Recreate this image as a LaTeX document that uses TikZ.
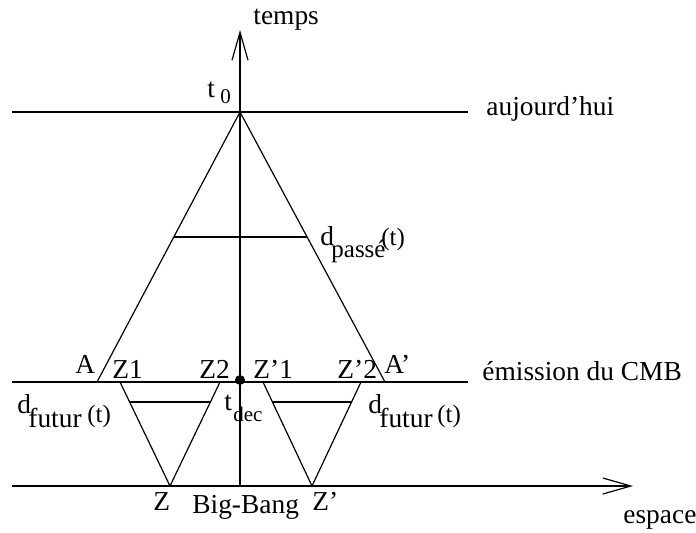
\documentclass[tikz,border=0pt]{standalone}
\usepackage{fontspec}
\setmainfont{Liberation Serif}
\usetikzlibrary{arrows.meta,calc}
\begin{document}
\begin{tikzpicture}[x=0.5pt,y=-0.5pt,
  ln/.style={line width=0.6pt},
  axarrow/.style={ln,-{Straight Barb[length=14pt,width=8pt,line width=0.6pt]}},
  lbl/.style={inner sep=0pt,anchor=base west,font=\fontsize{13.7}{16}\selectfont},
  sublbl/.style={inner sep=0pt,anchor=base west,font=\fontsize{10.5}{12}\selectfont},
  midlbl/.style={inner sep=0pt,anchor=base west,font=\fontsize{12.5}{14}\selectfont}]
\useasboundingbox (0,0) rectangle (696,532);
% key points
\coordinate (O) at (240,486);
\coordinate (Top) at (240,30);
\coordinate (Xl) at (12,486);
\coordinate (Xr) at (633,486);
\coordinate (T0) at (240,112);
\coordinate (Tl) at (12,112);
\coordinate (Tr) at (468,112);
\coordinate (Cl) at (12,382);
\coordinate (Cr) at (468,382);
\coordinate (A) at (97,382);
\coordinate (Ap) at (385,382);
\coordinate (Z1) at (120,382);
\coordinate (Z2) at (220,382);
\coordinate (Z) at (170,486);
\coordinate (Zp1) at (263,382);
\coordinate (Zp2) at (361,382);
\coordinate (Zp) at (312,486);
\coordinate (Tdec) at (240,380);
% axes
\draw[axarrow] (O) -- (Top);
\draw[axarrow] (Xl) -- (Xr);
% horizontal lines
\draw[ln] (Tl) -- (Tr);
\draw[ln] (Cl) -- (Cr);
% past light cone
\draw[ln] (A) -- (T0) -- (Ap);
\draw[ln] ($(T0)!0.463!(A)$) -- ($(T0)!0.463!(Ap)$);
% future cones
\draw[ln] (Z1) -- (Z) -- (Z2);
\draw[ln] ($(Z1)!0.1923!(Z)$) -- ($(Z2)!0.1923!(Z)$);
\draw[ln] (Zp1) -- (Zp) -- (Zp2);
\draw[ln] ($(Zp1)!0.1923!(Zp)$) -- ($(Zp2)!0.1923!(Zp)$);
% decoupling point
\fill (Tdec) circle (5);
% labels
\node[lbl] (ltemps) at (253,24) {temps};
\node[lbl] (lt0) at (207,97) {t};
\node[sublbl] (l0) at (220,103) {0};
\node[lbl] (lauj) at (486,115) {aujourd'hui};
\node[lbl] (lcmb) at (482,380) {émission du CMB};
\node[lbl] (ldp) at (320,245) {d};
\node[midlbl] (lpasse) at (331,257) {passé};
\node[midlbl] (ldpt) at (381,245) {(t)};
\node[lbl] (lA) at (75,373) {A};
\node[lbl] (lZ1) at (112,378) {Z1};
\node[lbl] (lZ2) at (199,378) {Z2};
\node[lbl] (lZp1) at (253,378) {Z'1};
\node[lbl] (lZp2) at (337,378) {Z'2};
\node[lbl] (lAp) at (384,373) {A'};
\node[lbl] (ltd) at (224,410) {t};
\node[sublbl] (ldec) at (233,421) {dec};
\node[lbl] (ldf1) at (17,413) {d};
\node[lbl] (lfut1) at (28,427) {futur};
\node[midlbl] (lft1) at (87,422) {(t)};
\node[lbl] (ldf2) at (368,413) {d};
\node[lbl] (lfut2) at (379,427) {futur};
\node[midlbl] (lft2) at (437,422) {(t)};
\node[lbl] (lZ) at (153,510) {Z};
\node[lbl] (lbb) at (192,513) {Big-Bang};
\node[lbl] (lZp) at (312,510) {Z'};
\node[lbl] (lesp) at (623,523) {espace};
\end{tikzpicture}
\end{document}
